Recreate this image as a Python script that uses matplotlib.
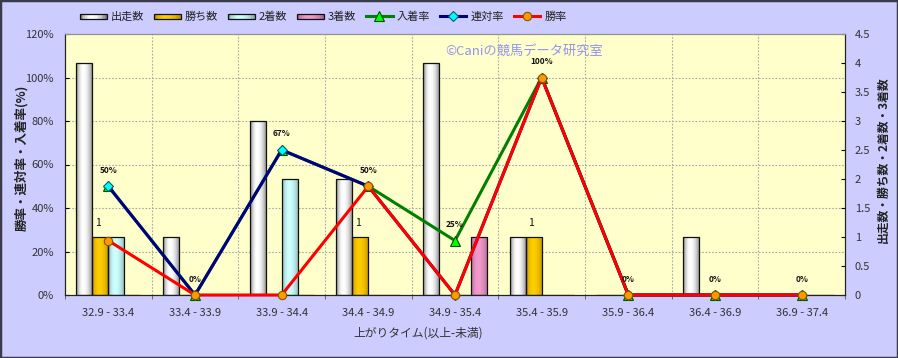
import numpy as np
import matplotlib
matplotlib.use("Agg")
import matplotlib.pyplot as plt
from matplotlib.patches import Rectangle
from matplotlib.lines import Line2D
from matplotlib.legend_handler import HandlerBase

plt.rcParams['font.family'] = ['Noto Sans CJK JP', 'DejaVu Sans']

categories = ["32.9 - 33.4", "33.4 - 33.9", "33.9 - 34.4", "34.4 - 34.9", "34.9 - 35.4",
              "35.4 - 35.9", "35.9 - 36.4", "36.4 - 36.9", "36.9 - 37.4"]
starts = [4, 1, 3, 2, 4, 1, 0, 1, 0]        # 出走数
wins = [1, 0, 0, 1, 0, 1, 0, 0, 0]          # 勝ち数
seconds = [1, 0, 2, 0, 0, 0, 0, 0, 0]       # 2着数
thirds = [0, 0, 0, 0, 1, 0, 0, 0, 0]        # 3着数
place_rate = [50, 0, 66.7, 50, 25, 100, 0, 0, 0]   # 入着率
quinella_rate = [50, 0, 66.7, 50, 0, 100, 0, 0, 0] # 連対率
win_rate = [25, 0, 0, 50, 0, 100, 0, 0, 0]         # 勝率

bar_series = [
    ("出走数", starts, (1.0, 1.0, 1.0), 0.50),
    ("勝ち数", wins, (1.0, 0.80, 0.0), 0.28),
    ("2着数", seconds, (0.80, 1.0, 1.0), 0.32),
    ("3着数", thirds, (0.95, 0.60, 0.80), 0.30),
]

W, H = 898, 358
fig = plt.figure(figsize=(W / 100, H / 100), dpi=100, facecolor='#CCCCFF')
L, R, B, T = 65 / W, 845 / W, 1 - 295 / H, 1 - 34 / H
ax = fig.add_axes([L, B, R - L, T - B])
ax2 = ax.twinx()
ax.set_zorder(2)
ax2.set_zorder(1)
ax.patch.set_visible(False)
ax2.patch.set_visible(True)
ax2.patch.set_facecolor('#FFFFCC')

n = len(categories)
x = np.arange(n)
ax.set_xlim(-0.5, n - 0.5)
ax.set_ylim(0, 120)
ax2.set_ylim(0, 4.5)


def gradient_colors(base, strength, npts=64):
    t = np.linspace(0, 1, npts)
    c = 0.42
    p = np.where(t < c, 1 - strength * ((c - t) / c) ** 2, 1 - strength * ((t - c) / (1 - c)) ** 2)
    col = np.array(base)[None, :] * p[:, None]
    return np.clip(col, 0, 1)


# grid behind bars (on count axis)
for k in range(1, 6):
    ax2.axhline(k * 20 / 120 * 4.5, color='#A8A8A8', lw=0.8, ls=(0, (1.5, 1.5)), zorder=0.5)
for b in np.arange(0.5, n - 0.5, 1):
    ax2.axvline(b, color='#A8A8A8', lw=0.8, ls=(0, (1.5, 1.5)), zorder=0.5)

bw = 0.185
offs = [-1.5, -0.5, 0.5, 1.5]
for (name, vals, base, strength), o in zip(bar_series, offs):
    rects = ax2.bar(x + o * bw, vals, bw, facecolor='none', edgecolor='#111111', lw=0.9, zorder=3)
    grad = gradient_colors(base, strength)[None, :, :]
    for r in rects:
        h = r.get_height()
        if h <= 0:
            continue
        im = ax2.imshow(grad, extent=[r.get_x(), r.get_x() + r.get_width(), 0, h],
                        aspect='auto', zorder=2, interpolation='bilinear')
        im.set_clip_path(r)
ax2.set_xlim(-0.5, n - 0.5)
ax2.set_ylim(0, 4.5)

# labels above win bars
for i, v in enumerate(wins):
    if v > 0:
        ax2.annotate(str(v), (x[i] - 0.5 * bw - 0.03, v), xytext=(0, 10), textcoords='offset points',
                     ha='center', va='center', fontsize=7.5, color='#111111', zorder=6)

# lines
l1, = ax.plot(x, place_rate, color='#008000', lw=2.2, marker='^', markersize=6.5,
              markerfacecolor='#00FF00', markeredgecolor='#005000', markeredgewidth=0.8, zorder=3, clip_on=False)
l2, = ax.plot(x, quinella_rate, color='#000080', lw=2.2, marker='D', markersize=5,
              markerfacecolor='#00FFFF', markeredgecolor='#006060', markeredgewidth=0.8, zorder=4, clip_on=False)
l3, = ax.plot(x, win_rate, color='#FF0000', lw=2.2, marker='o', markersize=6,
              markerfacecolor='#FF9900', markeredgecolor='#885500', markeredgewidth=0.8, zorder=5, clip_on=False)

for i, v in enumerate(place_rate):
    ax.annotate(f"{round(v)}%", (x[i], v), xytext=(0, 11.5), textcoords='offset points',
                ha='center', va='center', fontsize=6, fontweight='bold', color='#111111', zorder=6)

# ticks and spines
ax.set_xticks(x)
ax.set_xticklabels(categories)
ax.set_xticks(np.arange(-0.5, n, 1), minor=True)
ax.tick_params(axis='x', which='major', length=0, pad=9, labelsize=8, labelcolor='#333333')
ax.tick_params(axis='x', which='minor', length=3, direction='out', color='#555555')
ax.set_yticks(np.arange(0, 121, 20))
ax.set_yticklabels([f"{v}%" for v in range(0, 121, 20)])
ax.tick_params(axis='y', length=3, direction='in', pad=8, labelsize=8, labelcolor='#333333')
ax2.set_yticks(np.arange(0, 4.51, 0.5))
ax2.set_yticklabels([f"{v:g}" for v in np.arange(0, 4.51, 0.5)])
ax2.tick_params(axis='y', length=3, direction='in', pad=7, labelsize=8, labelcolor='#333333')
ax2.tick_params(axis='x', length=0)

for a in (ax, ax2):
    a.spines['top'].set_color('#909090')
    a.spines['left'].set_color('#222222')
    a.spines['right'].set_color('#222222')
    a.spines['bottom'].set_color('#222222')

fig.text(22 / W, 1 - 158 / H, "勝率・連対率・入着率(%)", rotation=90, ha='center', va='center',
         fontsize=9, fontweight='bold', color='#222222')
fig.text(883 / W, 1 - 160 / H, "出走数・勝ち数・2着数・3着数", rotation=90, ha='center', va='center',
         fontsize=8.5, fontweight='bold', color='#222222')
fig.text(418 / W, 1 - 333 / H, "上がりタイム(以上-未満)", ha='center', va='center',
         fontsize=8.5, color='#333333')
fig.text(445 / W, 1 - 51 / H, "©Caniの競馬データ研究室", ha='left', va='center',
         fontsize=9.5, color='#9494EE', zorder=10)


class GradHandler(HandlerBase):
    def __init__(self, base, strength):
        super().__init__()
        self.base = base
        self.strength = strength

    def create_artists(self, legend, orig_handle, xdescent, ydescent, width, height, fontsize, trans):
        hh = height * 0.7
        y0 = -ydescent + (height - hh) / 2
        cols = gradient_colors(self.base, self.strength, 16)
        arts = []
        for k, c in enumerate(cols):
            arts.append(Rectangle((-xdescent + k * width / 16, y0), width / 16 + 0.3, hh,
                                  facecolor=c, edgecolor='none', transform=trans))
        arts.append(Rectangle((-xdescent, y0), width, hh, facecolor='none',
                              edgecolor='#111111', lw=0.9, transform=trans))
        return arts


handles, labels, hmap = [], [], {}
for name, vals, base, strength in bar_series:
    h = Rectangle((0, 0), 1, 1)
    handles.append(h)
    labels.append(name)
    hmap[h] = GradHandler(base, strength)
handles += [l1, l2, l3]
labels += ["入着率", "連対率", "勝率"]
leg = fig.legend(handles, labels, handler_map=hmap, loc='center left',
                 bbox_to_anchor=(80 / W, 1 - 17 / H), ncol=7, frameon=False, fontsize=8,
                 handlelength=2.4, handletextpad=0.35, columnspacing=0.9, borderpad=0, borderaxespad=0)
for t in leg.get_texts():
    t.set_color('#222222')

fig.patches.append(Rectangle((0, 0), 1, 1, transform=fig.transFigure, fill=False,
                             edgecolor='#3A3A4A', lw=2.5, zorder=20))

fig.savefig("out.png", dpi=100, facecolor=fig.get_facecolor())
